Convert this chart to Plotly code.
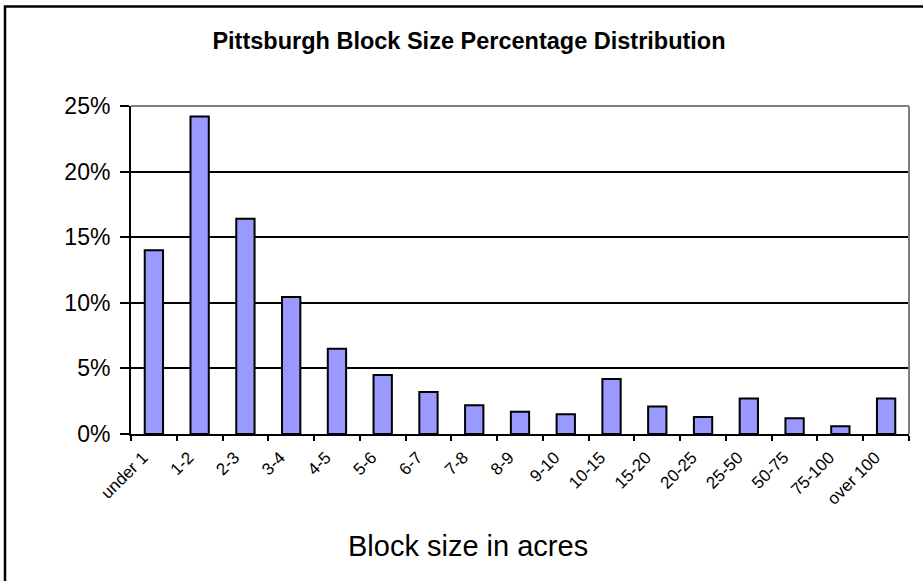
import plotly.graph_objects as go

# Share of Pittsburgh blocks in each size band (percent)
size_bands = ["under 1", "1-2", "2-3", "3-4", "4-5", "5-6", "6-7", "7-8", "8-9",
              "9-10", "10-15", "15-20", "20-25", "25-50", "50-75", "75-100", "over 100"]
share_pct = [14.0, 24.2, 16.4, 10.45, 6.5, 4.5, 3.2, 2.2, 1.7,
             1.5, 4.2, 2.1, 1.3, 2.7, 1.2, 0.6, 2.7]
y_ticks = [0, 5, 10, 15, 20, 25]

FONT = "Liberation Sans, Arial, sans-serif"
W, H = 923, 581
L, R, T, B = 131, 14, 106, 147
pw, ph = W - L - R, H - T - B


def px_to_paper_x(px):
    return (px - L) / pw


def px_to_paper_y(py):
    return (H - B - py) / ph


fig = go.Figure(
    go.Bar(
        x=size_bands,
        y=share_pct,
        marker=dict(color="#9999FF", line=dict(color="black", width=2)),
        hoverinfo="x+y",
    )
)

fig.update_layout(
    width=W,
    height=H,
    margin=dict(l=L, r=R, t=T, b=B),
    paper_bgcolor="white",
    plot_bgcolor="white",
    bargap=0.6,
    showlegend=False,
    font=dict(family=FONT, color="black"),
    title=dict(
        text="<b>Pittsburgh Block Size Percentage Distribution</b>",
        font=dict(family=FONT, size=23.5, color="black"),
        x=469 / W,
        xref="container",
        xanchor="center",
        y=1 - 41 / H,
        yref="container",
        yanchor="middle",
    ),
    xaxis=dict(
        type="category",
        showgrid=False,
        showline=True,
        linecolor="black",
        linewidth=2,
        ticks="outside",
        tickson="boundaries",
        ticklen=5,
        tickwidth=2,
        tickcolor="black",
        tickangle=-45,
        ticklabelshift=-11,
        ticklabelstandoff=5,
        tickfont=dict(family=FONT, size=17, color="black"),
        zeroline=False,
    ),
    yaxis=dict(
        range=[0, 25],
        tickvals=y_ticks,
        ticktext=[f"{v}%" for v in y_ticks],
        showgrid=True,
        gridcolor="black",
        gridwidth=2,
        showline=True,
        linecolor="black",
        linewidth=2,
        ticks="outside",
        ticklen=9,
        tickwidth=2,
        tickcolor="black",
        ticklabelstandoff=5,
        tickfont=dict(family=FONT, size=23, color="black"),
        zeroline=False,
    ),
    annotations=[
        dict(
            text="Block size in acres",
            xref="paper",
            yref="paper",
            x=px_to_paper_x(468),
            y=px_to_paper_y(546),
            xanchor="center",
            yanchor="middle",
            showarrow=False,
            font=dict(family=FONT, size=29, color="black"),
        )
    ],
    shapes=[
        # grey plot-area frame on top and right
        dict(type="line", xref="paper", yref="paper", x0=0, x1=1, y0=1, y1=1,
             line=dict(color="#808080", width=2)),
        dict(type="line", xref="paper", yref="paper", x0=1, x1=1, y0=0, y1=1,
             line=dict(color="#808080", width=2)),
        # chart-area border
        dict(type="rect", xref="paper", yref="paper",
             x0=px_to_paper_x(5), x1=px_to_paper_x(940),
             y0=px_to_paper_y(600), y1=px_to_paper_y(6.5),
             line=dict(color="black", width=2.5), layer="below"),
    ],
)

fig.write_html("out.html")
